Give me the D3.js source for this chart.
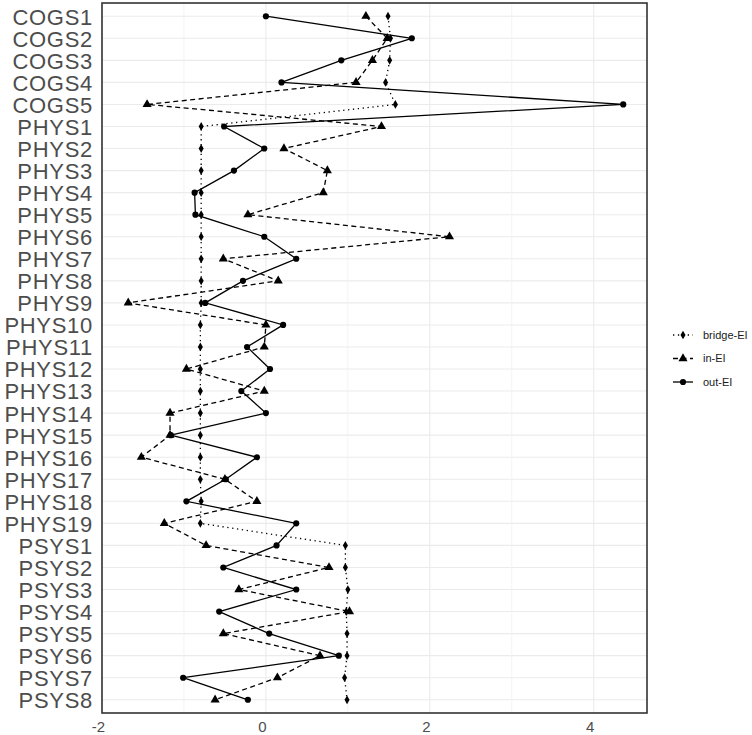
<!DOCTYPE html>
<html>
<head>
<meta charset="utf-8">
<script src="https://cdn.jsdelivr.net/npm/d3@7"></script>
<style>
  html, body { margin: 0; padding: 0; background: #fff; }
  svg { display: block; font-family: "Liberation Sans", Arial, sans-serif; }
</style>
</head>
<body>
<div id="chart"></div>
<script>
// items top to bottom
const items = [
  'COGS1', 'COGS2', 'COGS3', 'COGS4', 'COGS5',
  'PHYS1', 'PHYS2', 'PHYS3', 'PHYS4', 'PHYS5', 'PHYS6', 'PHYS7', 'PHYS8', 'PHYS9', 'PHYS10',
  'PHYS11', 'PHYS12', 'PHYS13', 'PHYS14', 'PHYS15', 'PHYS16', 'PHYS17', 'PHYS18', 'PHYS19',
  'PSYS1', 'PSYS2', 'PSYS3', 'PSYS4', 'PSYS5', 'PSYS6', 'PSYS7', 'PSYS8'
];

const bridgeEI = [
  1.49, 1.52, 1.51, 1.46, 1.58,
  -0.79, -0.79, -0.79, -0.79, -0.79, -0.79, -0.79, -0.79, -0.79, -0.80,
  -0.80, -0.80, -0.80, -0.80, -0.80, -0.80, -0.80, -0.79, -0.80,
  0.97, 0.97, 1.00, 0.98, 0.99, 0.99, 0.96, 0.99
];

const inEI = [
  1.22, 1.48, 1.30, 1.10, -1.45,
  1.41, 0.22, 0.75, 0.70, -0.22, 2.24, -0.52, 0.15, -1.68, 0.00,
  -0.02, -0.97, -0.02, -1.17, -1.17, -1.52, -0.50, -0.11, -1.24,
  -0.73, 0.77, -0.33, 1.02, -0.52, 0.66, 0.14, -0.62
];

const outEI = [
  0.00, 1.78, 0.92, 0.19, 4.36,
  -0.51, -0.02, -0.39, -0.87, -0.86, -0.02, 0.37, -0.28, -0.74, 0.21,
  -0.23, 0.05, -0.30, 0.00, -1.16, -0.11, -0.49, -0.97, 0.37,
  0.13, -0.52, 0.37, -0.57, 0.04, 0.89, -1.01, -0.22
];

const xTicks = [-2, 0, 2, 4];
const xMinor = [-1, 1, 3];

const series = [
  { key: 'bridge-EI', values: bridgeEI, dash: '1.3,3.6', shape: d3.symbolDiamond, size: 22 },
  { key: 'in-EI', values: inEI, dash: '5,3.5', shape: d3.symbolTriangle, size: 36 },
  { key: 'out-EI', values: outEI, dash: null, shape: d3.symbolCircle, size: 30 }
];

const W = 752, H = 735;
const P = { left: 102, right: 647, top: 3, bottom: 713 };

const svg = d3.select('#chart').append('svg')
  .attr('width', W)
  .attr('height', H);

const x = d3.scaleLinear().domain([-2, 4.65]).range([P.left, P.right]);
const y = d3.scalePoint().domain(items).range([P.top, P.bottom]).padding(0.6);

// grid
const grid = svg.append('g');
grid.selectAll('.hgrid')
  .data(items)
  .join('line')
  .attr('x1', P.left).attr('x2', P.right)
  .attr('y1', d => y(d)).attr('y2', d => y(d))
  .attr('stroke', '#ebebeb').attr('stroke-width', 1.1);
grid.selectAll('.vminor')
  .data(xMinor)
  .join('line')
  .attr('x1', d => x(d)).attr('x2', d => x(d))
  .attr('y1', P.top).attr('y2', P.bottom)
  .attr('stroke', '#f0f0f0').attr('stroke-width', 0.8);
grid.selectAll('.vmajor')
  .data(xTicks)
  .join('line')
  .attr('x1', d => x(d)).attr('x2', d => x(d))
  .attr('y1', P.top).attr('y2', P.bottom)
  .attr('stroke', '#ebebeb').attr('stroke-width', 1.1);

// lines and points
const line = d3.line()
  .x(d => x(d.v))
  .y(d => y(d.item));

series.forEach(s => {
  const pts = items.map((item, i) => ({ item, v: s.values[i] }));
  svg.append('path')
    .datum(pts)
    .attr('d', line)
    .attr('fill', 'none')
    .attr('stroke', '#000')
    .attr('stroke-width', 1.3)
    .attr('stroke-dasharray', s.dash);
  svg.append('g')
    .selectAll('path')
    .data(pts)
    .join('path')
    .attr('transform', d => `translate(${x(d.v)},${y(d.item)})`)
    .attr('d', d3.symbol().type(s.shape).size(s.size))
    .attr('fill', '#000');
});

// panel border
svg.append('rect')
  .attr('x', P.left).attr('y', P.top)
  .attr('width', P.right - P.left).attr('height', P.bottom - P.top)
  .attr('fill', 'none')
  .attr('stroke', '#333')
  .attr('stroke-width', 1.6);

// axes
svg.append('g')
  .attr('transform', `translate(${P.left},0)`)
  .call(d3.axisLeft(y).tickSize(0).tickPadding(9))
  .call(g => g.select('.domain').remove())
  .call(g => g.selectAll('text')
    .attr('fill', '#4d4d4d')
    .style('font-size', '22px')
    .style('letter-spacing', '0.7px')
    .attr('dy', '0.36em'));

svg.append('g')
  .attr('transform', `translate(0,${P.bottom})`)
  .call(d3.axisBottom(x).tickValues(xTicks).tickSize(0).tickPadding(8)
    .tickFormat(d => d < 0 ? '-' + Math.abs(d) : d))
  .call(g => g.select('.domain').remove())
  .call(g => g.selectAll('text')
    .attr('fill', '#4d4d4d')
    .attr('dx', '-4')
    .style('font-size', '15px'));

// legend
const legend = svg.append('g').attr('transform', 'translate(673,335)');
series.forEach((s, i) => {
  const g = legend.append('g').attr('transform', `translate(0,${i * 23.5})`);
  g.append('line')
    .attr('x1', 0).attr('x2', 20)
    .attr('y1', 0).attr('y2', 0)
    .attr('stroke', '#000')
    .attr('stroke-width', 1.3)
    .attr('stroke-dasharray', s.dash);
  g.append('path')
    .attr('transform', 'translate(10,0)')
    .attr('d', d3.symbol().type(s.shape).size(s.size))
    .attr('fill', '#000');
  g.append('text')
    .attr('x', 30)
    .attr('y', 0)
    .attr('dy', '0.35em')
    .attr('fill', '#1a1a1a')
    .style('font-size', '11px')
    .text(s.key);
});
</script>
</body>
</html>
